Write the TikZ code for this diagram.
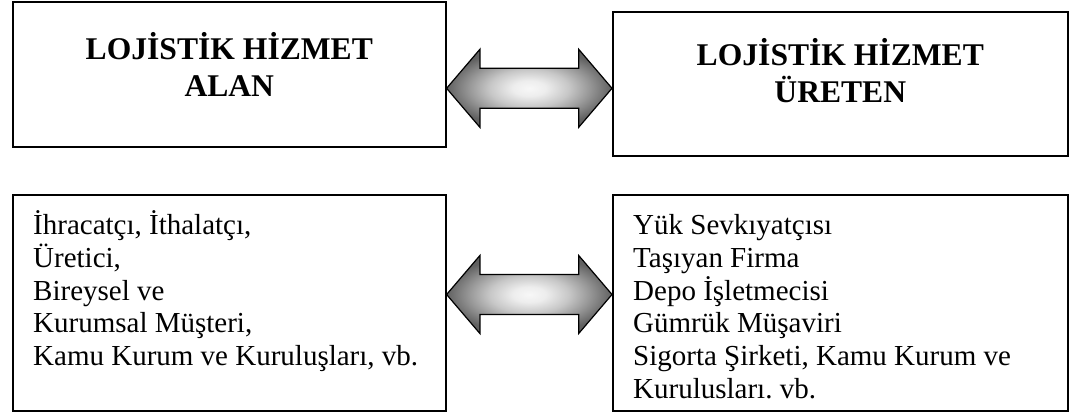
\documentclass[tikz,border=0pt]{standalone}
\usepackage{fontspec}
\setmainfont{Liberation Serif}
\usetikzlibrary{calc}
\frenchspacing

% light centre fading to grey at the arrow tips (path box spans -25bp..25bp)
\pgfdeclareradialshading{arrowshade}{\pgfpoint{0bp}{0bp}}{%
  color(0bp)=(black!3);
  color(5bp)=(black!7);
  color(12bp)=(black!22);
  color(18bp)=(black!40);
  color(25bp)=(black!62);
  color(50bp)=(black!66)}

\begin{document}
\begin{tikzpicture}[x=1pt, y=-1pt,
  panel/.style={draw=black, line width=1.6pt, rectangle, inner sep=0pt, anchor=north west},
  heading/.style={font=\fontsize{31.6}{37}\selectfont\bfseries, align=center, inner sep=0pt, anchor=base},
  listing/.style={font=\fontsize{29}{32.8}\selectfont, align=left, inner sep=0pt, anchor=base west},
  fatarrow/.style={draw=black, line width=1.2pt, line join=miter, shading=arrowshade}
]
\useasboundingbox (0,0) rectangle (1069,412);

% upper row: the two parties (node base = baseline of the last line)
\node[panel, minimum width=433pt, minimum height=144.5pt] (alan)   at (12,1.5) {};
\node[panel, minimum width=455pt, minimum height=144pt]   (ureten) at (612,11) {};
\node[heading] (alantitle)   at ([yshift=-95pt]alan.north)   {LOJİSTİK HİZMET\\ALAN};
\node[heading] (uretentitle) at ([yshift=-91.5pt]ureten.north) {LOJİSTİK HİZMET\\ÜRETEN};

% lower row: who belongs to each side
\node[panel, minimum width=433pt, minimum height=216pt] (alanlist)   at (12,194)  {};
\node[panel, minimum width=455pt, minimum height=216pt] (uretenlist) at (612,194) {};
\node[listing] (alantext) at ([xshift=21pt, yshift=-171.7pt]alanlist.north west)
  {İhracatçı, İthalatçı,\\Üretici,\\Bireysel ve\\Kurumsal Müşteri,\\Kamu Kurum ve Kuruluşları, vb.};
\node[listing] (uretentext) at ([xshift=21pt, yshift=-204.5pt]uretenlist.north west)
  {Yük Sevkıyatçısı\\Taşıyan Firma\\Depo İşletmecisi\\Gümrük Müşaviri\\Sigorta Şirketi, Kamu Kurum ve\\Kurulusları. vb.};

% two-headed block arrows between the boxes
\coordinate (a1) at (alan.east |- 0,88.3);
\coordinate (b1) at (ureten.west |- 0,88.3);
\coordinate (a2) at (alanlist.east |- 0,294.5);
\coordinate (b2) at (uretenlist.west |- 0,294.5);

\foreach \l/\r in {a1/b1, a2/b2}{
  \draw[fatarrow] (\l) -- ++(33.3,-39) -- ++(0,19) -- ($(\r)+(-33.3,-20)$) -- ++(0,-19)
    -- (\r) -- ++(-33.3,39) -- ++(0,-19) -- ($(\l)+(33.3,20)$) -- ++(0,19) -- cycle;
}
\end{tikzpicture}
\end{document}
